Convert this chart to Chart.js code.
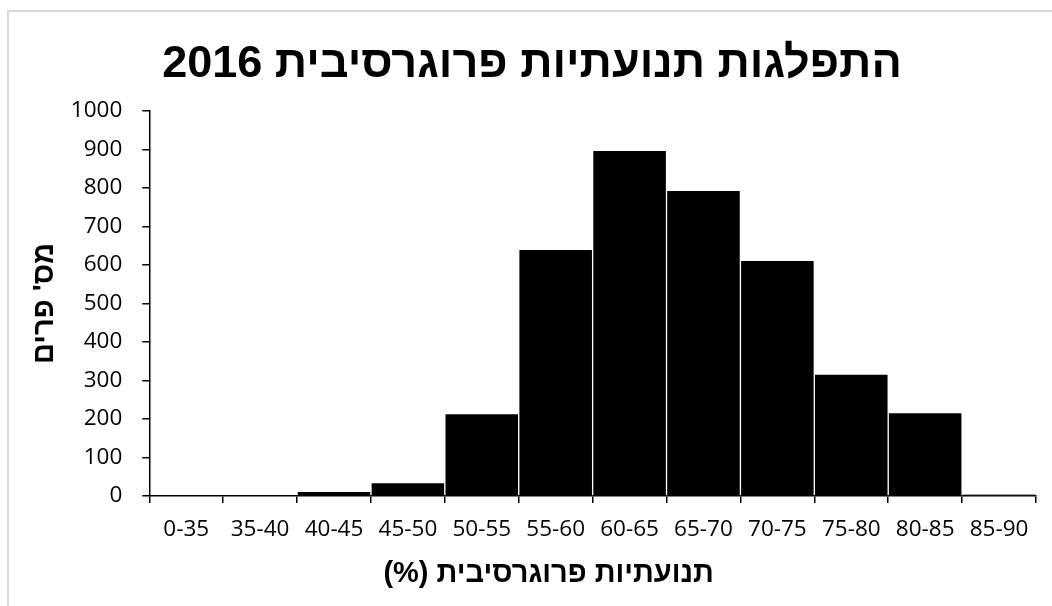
<!DOCTYPE html>
<html lang="he">
<head>
<meta charset="UTF-8">
<title>התפלגות תנועתיות פרוגרסיבית 2016</title>
<script src="https://cdn.jsdelivr.net/npm/chart.js"></script>
<style>
  html, body { margin: 0; padding: 0; background: #fff; }
  .frame {
    position: absolute; left: 7px; top: 10px; width: 1100px; height: 700px;
    border-left: 2px solid #d9d9d9; border-top: 2px solid #d9d9d9;
  }
  .wrap { position: absolute; left: 0; top: 0; width: 1052px; height: 606px; }
</style>
</head>
<body>
<div class="frame"></div>
<div class="wrap"><canvas id="histChart" dir="rtl"></canvas></div>
<script>
// motility ranges (%) and number of bulls per range
const ranges = ['0-35', '35-40', '40-45', '45-50', '50-55', '55-60', '60-65', '65-70', '70-75', '75-80', '80-85', '85-90'];
const bullCounts = [0, 0, 12, 35, 214, 641, 898, 794, 612, 317, 217, 4];
const yTicks = [0, 100, 200, 300, 400, 500, 600, 700, 800, 900, 1000];
const xAxisTitle = 'תנועתיות פרוגרסיבית (%)';

const tickFont = { family: '"Open Sans", sans-serif', size: 22.5 };
const boldFamily = '"Liberation Sans", Arial, sans-serif';

// x axis title sits a bit left of the plot centre, below the range labels
const xTitlePlugin = {
    id: 'xTitle',
    afterDraw(chart) {
        const { ctx, chartArea } = chart;
        ctx.save();
        ctx.font = 'bold 29px ' + boldFamily;
        ctx.fillStyle = '#000';
        ctx.textAlign = 'center';
        ctx.textBaseline = 'middle';
        ctx.fillText(xAxisTitle, (chartArea.left + chartArea.right) / 2 - 44, 574);
        ctx.restore();
    }
};

new Chart(document.getElementById('histChart'), {
    type: 'bar',
    data: {
        labels: ranges,
        datasets: [{
            data: bullCounts,
            backgroundColor: '#000000',
            borderColor: '#ffffff',
            borderWidth: 1,
            barPercentage: 1,
            categoryPercentage: 1
        }]
    },
    plugins: [xTitlePlugin],
    options: {
        responsive: true,
        maintainAspectRatio: false,
        animation: false,
        layout: { padding: { top: 38, right: 16, bottom: 50, left: 28 } },
        plugins: {
            legend: { display: false },
            tooltip: { enabled: false },
            title: {
                display: true,
                text: 'התפלגות תנועתיות פרוגרסיבית 2016',
                color: '#000',
                font: { family: boldFamily, weight: 'bold', size: 45 },
                padding: { top: 0, bottom: 19 }
            }
        },
        scales: {
            x: {
                border: { color: '#000', width: 1.5 },
                grid: { drawOnChartArea: false, drawTicks: true, tickLength: 7, color: '#000', lineWidth: 1.5 },
                ticks: { color: '#000', font: tickFont, maxRotation: 0, padding: 13 }
            },
            y: {
                min: 0,
                max: 1000,
                afterBuildTicks: axis => { axis.ticks = yTicks.map(v => ({ value: v })); },
                border: { color: '#000', width: 1.5 },
                grid: { drawOnChartArea: false, drawTicks: true, tickLength: 7, color: '#000', lineWidth: 1.5 },
                ticks: { color: '#000', font: tickFont, padding: 20, callback: v => String(v) },
                title: {
                    display: true,
                    text: "מס' פרים",
                    color: '#000',
                    font: { family: boldFamily, weight: 'bold', size: 29 },
                    padding: { top: 0, bottom: -12 }
                }
            }
        }
    }
});
</script>
</body>
</html>
